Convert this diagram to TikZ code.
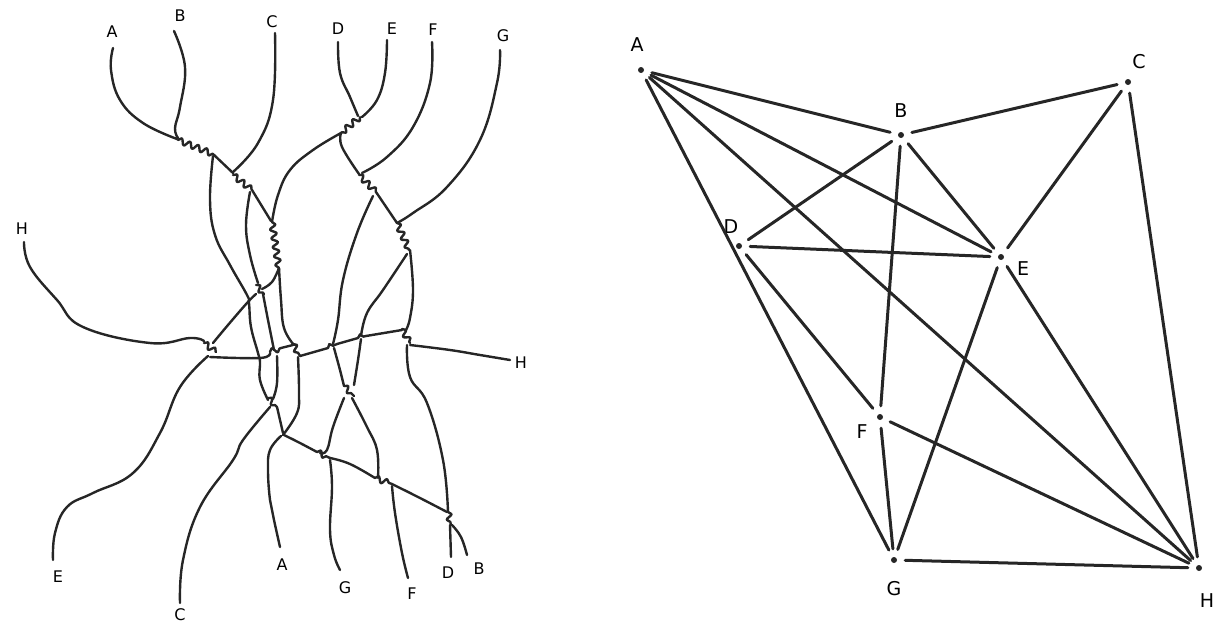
\documentclass[tikz,border=0pt]{standalone}
\usepackage{fontspec}
\setsansfont{DejaVu Sans}
\usetikzlibrary{decorations.pathmorphing}
\begin{document}
\begin{tikzpicture}[x=1pt,y=-1pt, line cap=round, line join=round]
\useasboundingbox (0,0) rectangle (1214,624);
\tikzset{
 strand/.style={line width=2.4pt, black!85},
 twist/.style={line width=2.4pt, black!85, decorate, decoration={snake, amplitude=3pt, segment length=9pt}},
 lab/.style={font=\sffamily\fontsize{16}{16}\selectfont, inner sep=0pt},
 gedge/.style={line width=3pt, black!85, shorten <=8pt, shorten >=8pt},
 gdot/.style={circle, fill=black!85, inner sep=0pt, minimum size=6pt},
 glab/.style={font=\sffamily\fontsize{19}{19}\selectfont, inner sep=0pt}
}
% ---------------- left: tangle ----------------
% top labels
\node[lab] (tA) at (112,32) {A};
\node[lab] (tB) at (180,16) {B};
\node[lab] (tC) at (272,22) {C};
\node[lab] (tD) at (338,29) {D};
\node[lab] (tE) at (392,29) {E};
\node[lab] (tF) at (433,30) {F};
\node[lab] (tG) at (503,36) {G};
\node[lab] (tH) at (22,229) {H};
% bottom labels
\node[lab] (bE) at (58,577) {E};
\node[lab] (bC) at (180,615) {C};
\node[lab] (bA) at (282,565) {A};
\node[lab] (bG) at (345,588) {G};
\node[lab] (bF) at (412,594) {F};
\node[lab] (bD) at (448,573) {D};
\node[lab] (bB) at (479,569) {B};
\node[lab] (bH) at (521,363) {H};

% strands from the top
\draw[strand] plot[smooth, tension=0.7] coordinates {(113,48) (111,70) (120,100) (143,123) (177,139)};
\draw[strand] plot[smooth, tension=0.7] coordinates {(174,31) (185,67) (180,107) (175,128) (178,138)};
\draw[twist] (178,140) -- (213,154);
\draw[strand] plot[smooth, tension=0.7] coordinates {(213,156) (210,200) (215,235) (230,265) (247,295) (249,303) (251,327) (258,353) (260,362) (260,380) (268,400)};
\draw[strand] (213,154) -- (233,173);
\draw[strand] plot[smooth, tension=0.7] coordinates {(275,33) (273,100) (258,143) (233,172)};
\draw[twist] (233,175) -- (252,190);
\draw[strand] plot[smooth, tension=0.7] coordinates {(250,192) (246,225) (250,255) (258,283)};
\draw[strand] (252,190) -- (271,221);
\draw[strand] plot[smooth, tension=0.7] coordinates {(341,133) (313,150) (290,170) (278,195) (272,222)};
\draw[twist] (272,222) -- (279,270);
\draw[strand] plot[smooth, tension=0.7] coordinates {(279,268) (272,282) (262,289)};
\draw[twist] (256,285) -- (264,294);
\draw[strand] plot[smooth, tension=0.7] coordinates {(256,294) (247,303) (228,325) (213,343)};
\draw[strand] plot[smooth, tension=0.7] coordinates {(263,294) (268,320) (272,340) (274,350)};
\draw[strand] plot[smooth, tension=0.7] coordinates {(279,268) (281,300) (284,328) (294,345)};
% H from the left
\draw[strand] plot[smooth, tension=0.7] coordinates {(24,242) (30,267) (57,300) (83,327) (150,343) (190,338) (204,341)};
\draw[twist] (204,343) -- (216,352);
\draw[strand] plot[smooth, tension=0.7] coordinates {(208,356) (180,387) (160,433) (133,473) (93,493) (67,507) (55,533) (53,560)};
\draw[strand] plot[smooth, tension=0.7] coordinates {(210,357) (260,358) (270,353)};
\draw[twist] (270,352) -- (281,348);
\draw[strand] (281,348) -- (293,345);
\draw[twist] (293,344) -- (300,356);
\draw[strand] (300,356) -- (328,348);
\draw[twist] (328,348) -- (337,344);
\draw[strand] (337,344) -- (358,338);
\draw[twist] (358,338) -- (366,336);
\draw[strand] (366,336) -- (402,330);
\draw[twist] (402,329) -- (410,343);
\draw[strand] plot[smooth, tension=0.7] coordinates {(410,345) (450,350) (480,355) (510,360)};
% below H, left-middle
\draw[strand] plot[smooth, tension=0.7] coordinates {(277,356) (277,383) (273,399)};
\draw[twist] (268,398) -- (277,407);
\draw[strand] plot[smooth, tension=0.7] coordinates {(270,407) (243,440) (233,460) (200,507) (183,560) (180,603)};
\draw[strand] plot[smooth, tension=0.7] coordinates {(277,407) (283,433)};
\draw[strand] plot[smooth, tension=0.7] coordinates {(298,357) (299,393) (297,413) (283,435)};
\draw[strand] plot[smooth, tension=0.7] coordinates {(281,436) (270,450) (268,470) (270,500) (274,520) (280,547)};
\draw[strand] plot[smooth, tension=0.7] coordinates {(284,435) (300,443) (317,452)};
\draw[twist] (317,452) -- (330,458);
\draw[strand] plot[smooth, tension=0.7] coordinates {(330,458) (350,464) (375,478)};
\draw[twist] (375,478) -- (392,484);
\draw[strand] plot[smooth, tension=0.7] coordinates {(392,484) (420,498) (447,512)};
\draw[twist] (448,512) -- (451,525);
\draw[strand] (450,525) -- (451,557);
\draw[strand] plot[smooth, tension=0.7] coordinates {(452,525) (461,537) (467,555)};
\draw[strand] plot[smooth, tension=0.7] coordinates {(330,460) (332,487) (330,530) (334,555) (340,570)};
\draw[strand] plot[smooth, tension=0.7] coordinates {(392,486) (395,513) (402,553) (408,578)};
% right group from the top
\draw[strand] plot[smooth, tension=0.7] coordinates {(338,42) (340,73) (350,97) (358,116)};
\draw[strand] plot[smooth, tension=0.7] coordinates {(387,40) (385,73) (377,100) (362,117)};
\draw[twist] (360,117) -- (341,133);
\draw[strand] plot[smooth, tension=0.7] coordinates {(341,133) (342,147) (359,174)};
\draw[strand] plot[smooth, tension=0.7] coordinates {(432,42) (430,83) (413,127) (387,157) (362,173)};
\draw[twist] (359,175) -- (376,192);
\draw[strand] plot[smooth, tension=0.7] coordinates {(373,196) (357,233) (343,280) (338,320) (333,344)};
\draw[strand] (376,192) -- (397,223);
\draw[strand] plot[smooth, tension=0.7] coordinates {(500,50) (497,83) (480,140) (447,187) (413,213) (397,223)};
\draw[twist] (397,223) -- (409,250);
\draw[strand] plot[smooth, tension=0.7] coordinates {(407,254) (383,290) (367,313) (361,336)};
\draw[strand] plot[smooth, tension=0.7] coordinates {(410,250) (413,290) (410,318) (406,330)};
% below H, right-middle
\draw[strand] plot[smooth, tension=0.7] coordinates {(334,348) (340,370) (344,386)};
\draw[strand] plot[smooth, tension=0.7] coordinates {(361,339) (358,360) (354,385)};
\draw[twist] (344,386) -- (354,396);
\draw[strand] plot[smooth, tension=0.7] coordinates {(344,398) (333,427) (327,450) (320,453)};
\draw[strand] plot[smooth, tension=0.7] coordinates {(352,398) (367,427) (377,450) (378,478)};
\draw[strand] plot[smooth, tension=0.7] coordinates {(407,345) (410,377) (427,403) (443,460) (448,512)};

% ---------------- right: graph ----------------
\node[gdot] (A) at (641,70) {};
\node[gdot] (B) at (901,135) {};
\node[gdot] (C) at (1128,82) {};
\node[gdot] (D) at (739,246) {};
\node[gdot] (E) at (1001,257) {};
\node[gdot] (F) at (880,417) {};
\node[gdot] (G) at (894,560) {};
\node[gdot] (H) at (1199,568) {};
\node[glab] at (637,45) {A};
\node[glab] at (901,111) {B};
\node[glab] at (1139,62) {C};
\node[glab] at (731,227) {D};
\node[glab] at (1023,269) {E};
\node[glab] at (862,432) {F};
\node[glab] at (894,589) {G};
\node[glab] at (1207,601) {H};
\foreach \u/\v in {A/B, A/E, A/H, A/G, B/C, B/D, B/E, B/F, C/E, C/H, D/E, D/F, E/G, E/H, F/G, F/H, G/H}
  \draw[gedge] (\u) -- (\v);
\end{tikzpicture}
\end{document}
